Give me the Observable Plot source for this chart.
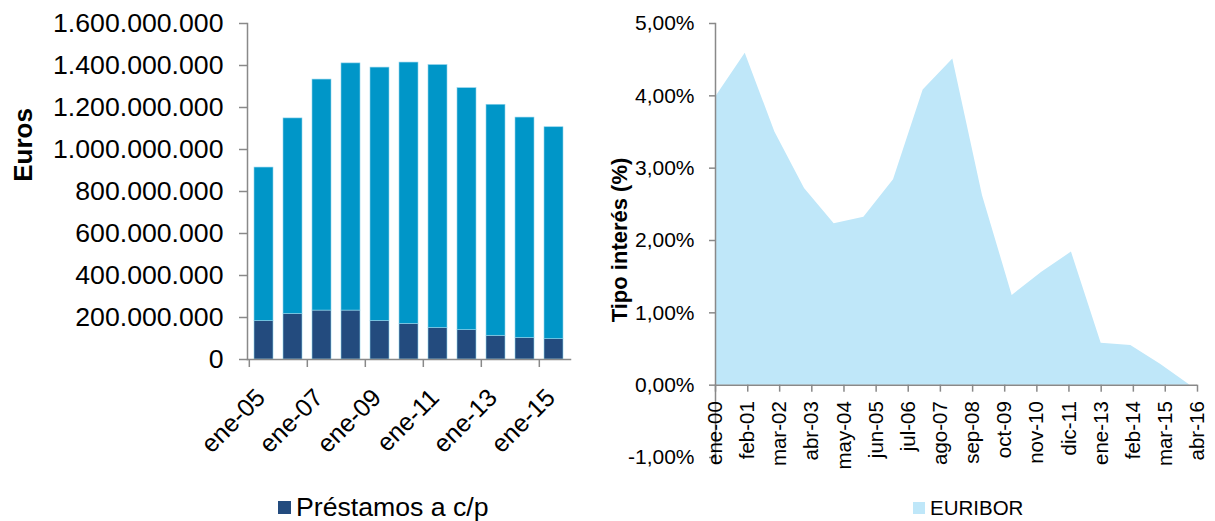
<!DOCTYPE html>
<html><head><meta charset="utf-8">
<script src="https://cdn.jsdelivr.net/npm/d3@7"></script>
<script src="https://cdn.jsdelivr.net/npm/@observablehq/plot@0.6"></script>
<style>
body{margin:0;background:#fff;font-family:"Liberation Sans",Arial,sans-serif;}
#wrap{position:relative;width:1215px;height:521px;overflow:hidden;background:#fff;}
.chart{position:absolute;top:0;}
.legend{position:absolute;display:flex;align-items:center;color:#000;white-space:nowrap;}
.sw{display:inline-block;margin-right:5px;}
.ytitle{position:absolute;font-weight:bold;color:#000;white-space:nowrap;transform:translate(-50%,-50%) rotate(-90deg);}
</style></head><body>
<div id="wrap">
  <div id="left" class="chart" style="left:0"></div>
  <div id="right" class="chart" style="left:600px"></div>
  <div class="ytitle" style="left:23px;top:145px;font-size:26px">Euros</div>
  <div class="ytitle" style="left:620px;top:240px;font-size:22px">Tipo interés (%)</div>
  <div class="legend" style="left:278px;top:492px;font-size:26.67px"><span class="sw" style="width:13px;height:13px;background:#234B7E"></span>Préstamos a c/p</div>
  <div class="legend" style="left:913px;top:496px;font-size:20.5px"><span class="sw" style="width:12px;height:12px;background:#BFE7F9"></span>EURIBOR</div>
</div>
<script>
// ---- Left chart data (euros, in millions) ----
const years = [2005,2006,2007,2008,2009,2010,2011,2012,2013,2014,2015];
const prestamosCP = [183,217,233,233,184,170,151,140,113,103,97];
const prestamosLP = [731,931,1100,1177,1206,1244,1251,1152,1100,1049,1009];
const seriesNames = ["Préstamos a c/p","Préstamos a l/p"];
const leftLabelYears = [2005,2007,2009,2011,2013,2015];
const leftLabels = ["ene-05","ene-07","ene-09","ene-11","ene-13","ene-15"];
const leftYTicks = [0,200000000,400000000,600000000,800000000,1000000000,1200000000,1400000000,1600000000];

// ---- Right chart data (EURIBOR, %) ----
const euriborYears = [2000,2001,2002,2003,2004,2005,2006,2007,2008,2009,2010,2011,2012,2013,2014,2015,2016];
const euribor = [3.98,4.59,3.50,2.72,2.23,2.32,2.84,4.08,4.51,2.62,1.24,1.56,1.84,0.58,0.55,0.29,0.0];
const rightXLabels = ["ene-00","feb-01","mar-02","abr-03","may-04","jun-05","jul-06","ago-07","sep-08","oct-09","nov-10","dic-11","ene-13","feb-14","mar-15","abr-16"];
const rightYTicks = [-1,0,1,2,3,4,5];
const monthNames = ["ene","feb","mar","abr","may","jun","jul","ago","sep","oct","nov","dic"];

const es = d3.formatLocale({decimal:",", thousands:".", grouping:[3], currency:["","€"], minus:"-"});
const fmtInt = es.format(",.0f");
const fmtPct = d => es.format(",.2f")(d) + "%";
const AX = "#898989";
const FONT = "'Liberation Sans', Arial, sans-serif";

// Left table
const rows = [];
years.forEach((y,i) => {
  rows.push({year:y, serie:seriesNames[0], value:prestamosCP[i]*1e6});
  rows.push({year:y, serie:seriesNames[1], value:prestamosLP[i]*1e6});
});

const L = {width:600, height:480, ml:247, mr:30, mt:23, mb:121};
const step = (L.width - L.ml - L.mr) / years.length;

const left = Plot.plot({
  width:L.width, height:L.height,
  marginLeft:L.ml, marginRight:L.mr, marginTop:L.mt, marginBottom:L.mb,
  style:{fontFamily:FONT, fontSize:"24px", color:"#000", background:"transparent", overflow:"visible"},
  x:{type:"band", domain:years, paddingInner:0.35, paddingOuter:0.175, axis:null},
  y:{domain:[0,1600000000], axis:null},
  color:{domain:seriesNames, range:["#234B7E","#0096C8"]},
  marks:[
    Plot.barY(rows, {x:"year", y:"value", fill:"serie", stroke:"#8FD3EC", strokeWidth:0.6}),
    Plot.frame({anchor:"left", stroke:AX, strokeWidth:1.5}),
    Plot.frame({anchor:"bottom", stroke:AX, strokeWidth:1.5}),
    Plot.axisY({ticks:leftYTicks, tickSize:8, tickPadding:16, tickFormat:fmtInt, stroke:AX, strokeWidth:1.5, fill:"#000", fontSize:26.67, label:null}),
    Plot.ruleX(leftLabelYears, {x:d=>d, y1:0, y2:0, insetBottom:-8, dx:-step/2, stroke:AX, strokeWidth:1.5}),
    Plot.text(leftLabelYears, {x:d=>d, y:0, text:(d,i)=>leftLabels[i], rotate:-45, textAnchor:"end", lineAnchor:"middle", dy:34, dx:-3, fontSize:25, fill:"#000"})
  ]
});
document.getElementById("left").appendChild(left);

// Right table
const eRows = euriborYears.map((y,i) => ({date:new Date(Date.UTC(y,0,1)), value:euribor[i]}));
const tickDates = rightXLabels.map(s => {
  const [m, yy] = s.split("-");
  return new Date(Date.UTC(2000 + +yy, monthNames.indexOf(m), 1));
});

const R = {width:615, height:480, ml:115, mr:18, mt:23, mb:23};
const right = Plot.plot({
  width:R.width, height:R.height,
  marginLeft:R.ml, marginRight:R.mr, marginTop:R.mt, marginBottom:R.mb,
  style:{fontFamily:FONT, fontSize:"20px", color:"#000", background:"transparent", overflow:"visible"},
  x:{type:"utc", domain:[tickDates[0], tickDates[tickDates.length-1]], axis:null},
  y:{domain:[-1,5], axis:null},
  marks:[
    Plot.areaY(eRows, {x:"date", y:"value", fill:"#BFE7F9"}),
    Plot.frame({anchor:"left", stroke:AX, strokeWidth:1.5}),
    Plot.ruleY([0], {stroke:AX, strokeWidth:1.5}),
    Plot.axisY({ticks:rightYTicks, tickSize:6, tickPadding:15, tickFormat:fmtPct, stroke:AX, strokeWidth:1.5, fill:"#000", fontSize:21, label:null}),
    Plot.ruleX(tickDates, {x:d=>d, y1:0, y2:0, insetBottom:-7, stroke:AX, strokeWidth:1.5}),
    Plot.text(tickDates, {x:d=>d, y:0, text:(d,i)=>rightXLabels[i], rotate:-90, textAnchor:"end", lineAnchor:"middle", dy:16, fontSize:20.5, fill:"#000"})
  ]
});
document.getElementById("right").appendChild(right);
</script>
</body></html>
